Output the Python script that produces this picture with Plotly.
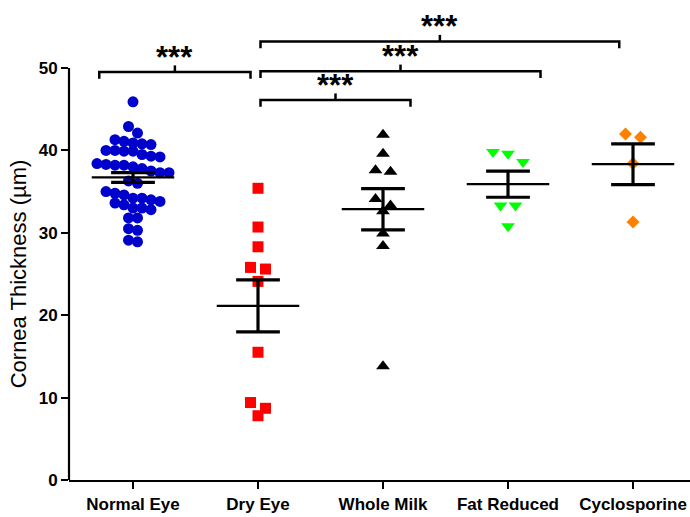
import numpy as np
import plotly.graph_objects as go

# ---------------- data ----------------
groups = ["Normal Eye", "Dry Eye", "Whole Milk", "Fat Reduced", "Cyclosporine"]

normal_eye = [45.9, 42.9, 42.1, 41.3, 41.1, 40.9, 40.8, 40.7, 40.0, 40.0, 39.9, 39.9,
              39.5, 39.3, 39.2, 38.4, 38.3, 38.2, 38.2, 38.0, 37.8, 37.5, 37.3, 37.3,
              36.3, 36.0, 35.0, 34.8, 34.6, 34.2, 34.2, 34.0, 33.8, 33.6, 33.4, 33.0,
              33.0, 32.8, 31.8, 31.8, 30.5, 30.3, 29.1, 28.9]
dry_eye = [35.4, 30.7, 28.3, 25.8, 25.6, 24.1, 15.5, 9.4, 8.7, 7.8]
whole_milk = [41.9, 39.6, 37.6, 37.4, 34.1, 33.3, 32.6, 29.9, 28.4, 13.8]
fat_reduced = [39.8, 39.6, 38.6, 33.3, 33.3, 30.8]
cyclosporine = [42.0, 41.6, 38.4, 31.3]

y_ticks = [0, 10, 20, 30, 40, 50]
y_title = "Cornea Thickness (µm)"

# significance comparisons: (label, x_start, x_end, level)
comparisons = [
    ("***", -0.27, 0.94, 49.5),
    ("***", 1.02, 2.22, 46.1),
    ("***", 1.02, 3.26, 49.6),
    ("***", 1.02, 3.89, 53.2),
]

# ---------------- styles ----------------
series = [normal_eye, dry_eye, whole_milk, fat_reduced, cyclosporine]
colors = ["#0000CC", "#FF0000", "#000000", "#00FF00", "#FF8000"]
symbols = ["circle", "square", "triangle-up", "triangle-down", "diamond"]
msizes = [11, 11, 12, 12, 10]
swarm_step_px = [9, 15, 15, 15, 15]

W, H = 690, 517
L_M, R_M, T_M, B_M = 69, 0, 0, 37
X_RANGE = [-0.512, 4.456]
Y_RANGE = [0, 58.25]
XPX = (W - L_M - R_M) / (X_RANGE[1] - X_RANGE[0])
YPX = (H - T_M - B_M) / (Y_RANGE[1] - Y_RANGE[0])
FONT = "Arial, Liberation Sans, sans-serif"


def swarm(vals, diam_px, step_px):
    """Row-based swarm: points whose values lie within one marker height of
    the row's first (highest) point share a row and are spread horizontally."""
    h = diam_px / YPX
    order = sorted(range(len(vals)), key=lambda i: -vals[i])
    rows = []
    for i in order:
        if rows and vals[rows[-1][0]] - vals[i] < h:
            rows[-1].append(i)
        else:
            rows.append([i])
    offs = [0.0] * len(vals)
    for row in rows:
        n = len(row)
        for k, i in enumerate(row):
            offs[i] = (k - (n - 1) / 2) * step_px / XPX
    return offs


fig = go.Figure()

for gi, vals in enumerate(series):
    offs = swarm(vals, msizes[gi] * 0.95, swarm_step_px[gi])
    fig.add_trace(go.Scatter(
        x=[gi + o for o in offs], y=vals, mode="markers",
        marker=dict(symbol=symbols[gi], size=msizes[gi], color=colors[gi],
                    line=dict(width=0)),
        showlegend=False, hoverinfo="y"))

# mean and SEM
for gi, vals in enumerate(series):
    a = np.array(vals)
    m = a.mean()
    sem = a.std(ddof=1) / np.sqrt(len(a))
    fig.add_trace(go.Scatter(x=[gi - 0.33, gi + 0.33], y=[m, m], mode="lines",
                             line=dict(color="black", width=2.2),
                             showlegend=False, hoverinfo="skip"))
    fig.add_trace(go.Scatter(
        x=[gi, gi, None, gi - 0.175, gi + 0.175, None, gi - 0.175, gi + 0.175],
        y=[m - sem, m + sem, None, m + sem, m + sem, None, m - sem, m - sem],
        mode="lines", line=dict(color="black", width=3.2),
        showlegend=False, hoverinfo="skip"))

shapes = []
annotations = []
tick_d = 6.7 / YPX
for lab, x0, x1, lvl in comparisons:
    xm = (x0 + x1) / 2
    shapes.append(dict(type="path", xref="x", yref="y",
                       path=f"M {x0},{lvl - tick_d} L {x0},{lvl} L {x1},{lvl} L {x1},{lvl - tick_d}",
                       line=dict(color="black", width=2.5)))
    shapes.append(dict(type="line", xref="x", yref="y", x0=xm, x1=xm, y0=lvl, y1=lvl + tick_d,
                       line=dict(color="black", width=2.5)))
    annotations.append(dict(x=xm, y=lvl + 15 / YPX, xref="x", yref="y", text="<b>" + lab + "</b>",
                            showarrow=False, yanchor="middle", xanchor="center",
                            font=dict(family=FONT, size=31, color="black")))

# y-axis line from 0 to 50 only
shapes.append(dict(type="line", xref="paper", yref="y", x0=0, x1=0, y0=0, y1=max(y_ticks),
                   line=dict(color="black", width=2.2)))

annotations.append(dict(x=-0.08, y=(y_ticks[0] + y_ticks[-1]) / 2, xref="paper", yref="y",
                        text=y_title, textangle=-90, showarrow=False,
                        xanchor="center", yanchor="middle",
                        font=dict(family=FONT, size=22, color="black")))

fig.update_layout(
    width=W, height=H,
    margin=dict(l=L_M, r=R_M, t=T_M, b=B_M),
    paper_bgcolor="white", plot_bgcolor="white",
    shapes=shapes, annotations=annotations,
    xaxis=dict(range=X_RANGE, tickvals=list(range(len(groups))),
               ticktext=["<b>" + g + "</b>" for g in groups],
               showline=True, linecolor="black", linewidth=2.2,
               ticks="outside", ticklen=7, tickwidth=2.2, tickcolor="black",
               showgrid=False, zeroline=False, automargin=False,
               tickfont=dict(family=FONT, size=17, color="black")),
    yaxis=dict(range=Y_RANGE, tickvals=y_ticks, showline=False,
               ticks="outside", ticklen=7, tickwidth=2.2, tickcolor="black",
               showgrid=False, zeroline=False, automargin=False,
               tickfont=dict(family=FONT, size=17, color="black", weight="bold")),
)

fig.write_html("out.html", config={"displayModeBar": False},
               post_script="document.body.style.margin='0px';document.body.style.padding='0px';")
